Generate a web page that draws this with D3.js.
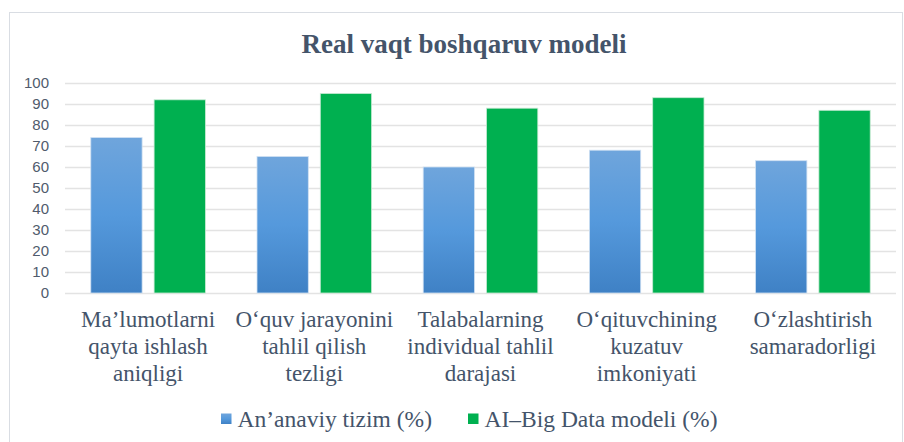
<!DOCTYPE html>
<html><head><meta charset="utf-8">
<script src="https://cdn.jsdelivr.net/npm/d3@7"></script>
<style>body{margin:0;background:#fff}svg{display:block}</style>
</head><body>
<svg id="c" width="904" height="442"></svg>
<script>
const title = "Real vaqt boshqaruv modeli";
const categories = [
  ["Ma’lumotlarni","qayta ishlash","aniqligi"],
  ["O‘quv jarayonini","tahlil qilish","tezligi"],
  ["Talabalarning","individual tahlil","darajasi"],
  ["O‘qituvchining","kuzatuv","imkoniyati"],
  ["O‘zlashtirish","samaradorligi"]
];
const seriesNames = ["An’anaviy tizim (%)", "AI–Big Data modeli (%)"];
const traditional = [74, 65, 60, 68, 63];
const aiBigData = [92, 95, 88, 93, 87];
const yTicks = [0,10,20,30,40,50,60,70,80,90,100];

const svg = d3.select("#c");
const x0 = d3.scaleBand().domain(d3.range(categories.length)).range([65, 896]).paddingInner(0).paddingOuter(0);
const y = d3.scaleLinear().domain([0,100]).range([293, 83]);

const defs = svg.append("defs");
const g1 = defs.append("linearGradient").attr("id","blueGrad").attr("x1",0).attr("x2",0).attr("y1",0).attr("y2",1);
g1.append("stop").attr("offset","0%").attr("stop-color","#6fa5dc");
g1.append("stop").attr("offset","50%").attr("stop-color","#5599dc");
g1.append("stop").attr("offset","100%").attr("stop-color","#3f81c5");

svg.append("rect").attr("x",9.5).attr("y",12.5).attr("width",893).attr("height",440)
  .attr("fill","none").attr("stroke","#d9dde3").attr("stroke-width",1);

svg.append("text").attr("x",464).attr("y",53).attr("text-anchor","middle")
  .attr("font-family","'Liberation Serif','Times New Roman',serif").attr("font-weight","bold")
  .attr("font-size",27).attr("fill","#44546a").text(title);

svg.append("g").selectAll("line").data(yTicks).join("line")
  .attr("x1",65).attr("x2",896).attr("y1",d=>Math.round(y(d))+0.5).attr("y2",d=>Math.round(y(d))+0.5)
  .attr("stroke","#e3e3e3").attr("stroke-width",1.4);

const yAxis = d3.axisLeft(y).tickValues(yTicks).tickSize(0).tickPadding(0);
const ya = svg.append("g").attr("transform","translate(49,0)").call(yAxis);
ya.select(".domain").remove();
ya.selectAll("text").attr("font-family","'Liberation Sans',Arial,sans-serif").attr("font-size",15)
  .attr("fill","#505b6c");

const bw = 51.3, gap = 12;
const off = (x0.bandwidth() - 2*bw - gap)/2;
const gBars = svg.append("g");
gBars.selectAll("rect.t").data(traditional).join("rect").attr("class","t")
  .attr("x",(d,i)=>x0(i)+off).attr("width",bw)
  .attr("y",d=>y(d)).attr("height",d=>y(0)-y(d))
  .attr("fill","url(#blueGrad)").attr("stroke","#cfe0f2").attr("stroke-width",0.8);
gBars.selectAll("rect.a").data(aiBigData).join("rect").attr("class","a")
  .attr("x",(d,i)=>x0(i)+off+bw+gap).attr("width",bw)
  .attr("y",d=>y(d)).attr("height",d=>y(0)-y(d))
  .attr("fill","#00b050").attr("stroke","#c6ead3").attr("stroke-width",0.8);

const cl = svg.append("g");
categories.forEach((lines,i)=>{
  const t = cl.append("text").attr("x",x0(i)+x0.bandwidth()/2).attr("y",327)
    .attr("text-anchor","middle").attr("font-family","'Liberation Serif','Times New Roman',serif")
    .attr("font-size",23).attr("fill","#44546a");
  lines.forEach((ln,j)=>{
    t.append("tspan").attr("x",x0(i)+x0.bandwidth()/2).attr("y",327+j*27).text(ln);
  });
});

const legend = svg.append("g");
const legX = [221, 468];
const legColors = ["url(#blueGrad)","#00b050"];
seriesNames.forEach((n,i)=>{
  legend.append("rect").attr("x",legX[i]).attr("y",413.5).attr("width",10.5).attr("height",10.5).attr("fill",legColors[i]);
  legend.append("text").attr("x",legX[i]+16.5).attr("y",427)
    .attr("font-family","'Liberation Serif','Times New Roman',serif").attr("font-size",23.5)
    .attr("fill","#44546a").text(n);
});
</script>
</body></html>
